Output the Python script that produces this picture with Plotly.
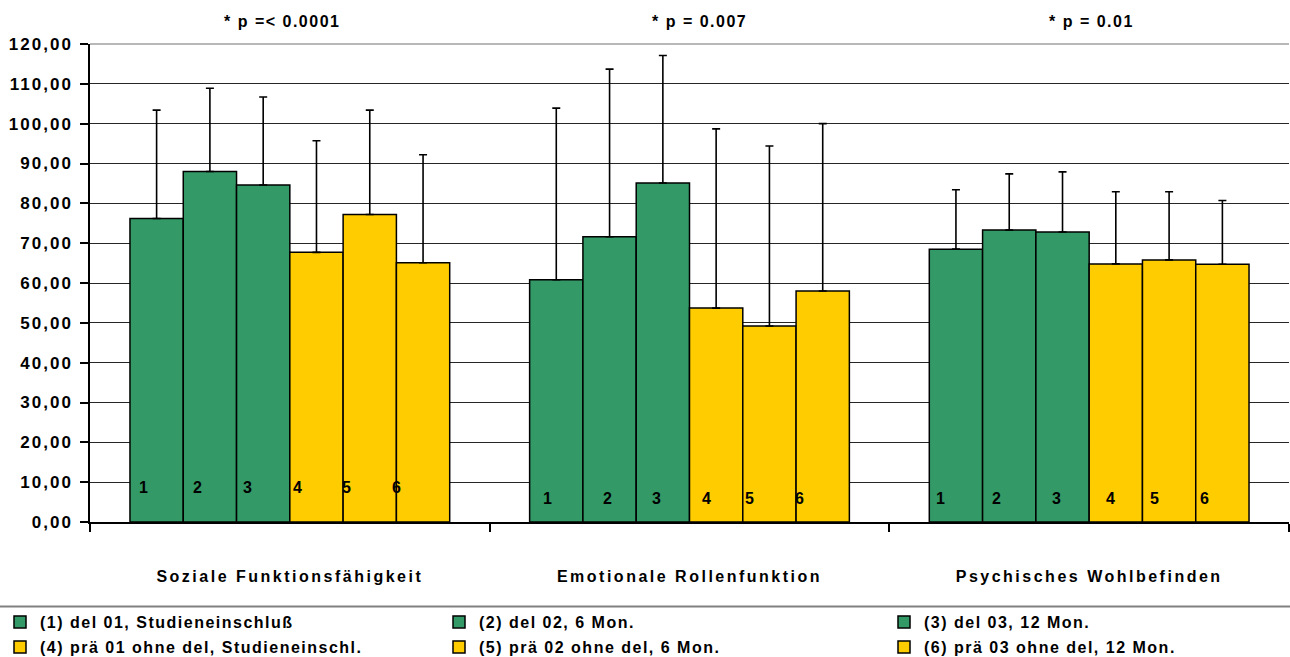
import plotly.graph_objects as go

# ---------------- data ----------------
categories = ["Soziale Funktionsfähigkeit", "Emotionale Rollenfunktion", "Psychisches Wohlbefinden"]
p_labels = ["* p =< 0.0001", "* p = 0.007", "* p = 0.01"]

series_names = [
    "(1) del 01, Studieneinschluß",
    "(2) del 02, 6 Mon.",
    "(3) del 03, 12 Mon.",
    "(4) prä 01 ohne del, Studieneinschl.",
    "(5) prä 02 ohne del, 6 Mon.",
    "(6) prä 03 ohne del, 12 Mon.",
]
bar_numbers = ["1", "2", "3", "4", "5", "6"]

mean_1 = [76.2, 60.8, 68.5]
mean_2 = [88.0, 71.6, 73.3]
mean_3 = [84.6, 85.1, 72.8]
mean_4 = [67.7, 53.7, 64.8]
mean_5 = [77.2, 49.2, 65.8]
mean_6 = [65.1, 58.0, 64.7]

sd_1 = [27.2, 43.1, 14.9]
sd_2 = [20.9, 42.1, 14.1]
sd_3 = [22.1, 32.0, 15.1]
sd_4 = [28.0, 45.0, 18.1]
sd_5 = [26.2, 45.2, 17.1]
sd_6 = [27.1, 42.0, 16.0]

y_ticks = [0, 10, 20, 30, 40, 50, 60, 70, 80, 90, 100, 110, 120]

means = [mean_1, mean_2, mean_3, mean_4, mean_5, mean_6]
sds = [sd_1, sd_2, sd_3, sd_4, sd_5, sd_6]

# ---------------- style ----------------
GREEN = "#339966"
YELLOW = "#FFCC00"
colors = [GREEN, GREEN, GREEN, YELLOW, YELLOW, YELLOW]
FONT = "Liberation Sans, Arial, sans-serif"
W, H = 1290, 657
ML, MR, MT, MB = 90, 1, 44, 135
PLOT_W = W - ML - MR
PLOT_H = H - MT - MB


def spaced(text, px):
    return f"<span style='letter-spacing:{px}px'>{text}</span>"


BARGAP = 0.2
# small pixel shifts of the in-bar number labels (per group, per bar)
label_shift = [
    [-13, -12, -16, -19, -23, -27],
    [-9, -2, -6, -10, -20, -23],
    [-15, -13, -6, -5, -15, -18],
]
label_level = [8.6, 5.95, 5.95]

legend_keys = ["legend", "legend2", "legend3", "legend4", "legend5", "legend6"]

fig = go.Figure()
for k in range(6):
    fig.add_trace(go.Bar(
        name=spaced(series_names[k], 1.5),
        x=categories,
        y=means[k],
        marker=dict(color=colors[k], line=dict(color="black", width=1.5)),
        error_y=dict(type="data", array=sds[k], symmetric=False,
                     arrayminus=[0, 0, 0], color="black", thickness=1.6, width=4),
        legend=legend_keys[k],
        hoverinfo="skip",
    ))

annotations = []
n = len(series_names)
slot = (1 - BARGAP) / n
for g in range(len(categories)):
    for k in range(n):
        annotations.append(dict(
            x=g + (k - (n - 1) / 2) * slot, y=label_level[g], xref="x", yref="y",
            text=bar_numbers[k], showarrow=False, xshift=label_shift[g][k],
            font=dict(family=FONT, size=16, color="black", weight="bold"),
        ))
# p-value titles above the groups
p_shift = [-8, 10, 2]
for g in range(len(categories)):
    annotations.append(dict(
        x=g, y=1, xref="x", yref="paper", yanchor="middle", yshift=23,
        xshift=p_shift[g], text=spaced(p_labels[g], 1.5), showarrow=False,
        font=dict(family=FONT, size=16, color="black", weight="bold"),
    ))

shapes = [
    # top border of plot area (gray)
    dict(type="line", xref="paper", yref="paper", x0=0, x1=1, y0=1, y1=1,
         line=dict(color="#a0a0a0", width=1.5), layer="above"),
    # separator above legend
    dict(type="line", xref="paper", yref="paper", x0=-ML / PLOT_W, x1=1 + MR / PLOT_W,
         y0=-(606.5 - 522) / PLOT_H, y1=-(606.5 - 522) / PLOT_H,
         line=dict(color="#808080", width=2)),
]

legend_common = dict(
    orientation="h", xref="container", yref="container", xanchor="left", yanchor="middle",
    font=dict(family=FONT, size=16, color="black", weight="bold"),
    bgcolor="rgba(0,0,0,0)", itemclick=False, itemdoubleclick=False,
    borderwidth=0,
)
col_px = [-6, 439, 884]
row_px = [622, 647]
legends = {}
for k in range(6):
    legends[legend_keys[k]] = dict(
        legend_common,
        x=col_px[k % 3] / W,
        y=1 - row_px[k // 3] / H,
    )

fig.update_layout(
    width=W, height=H, autosize=False,
    margin=dict(l=ML, r=MR, t=MT, b=MB, autoexpand=False),
    paper_bgcolor="white", plot_bgcolor="white",
    barmode="group", bargap=BARGAP, bargroupgap=0,
    showlegend=True,
    annotations=annotations,
    shapes=shapes,
    font=dict(family=FONT, color="black"),
    **legends,
)

fig.update_yaxes(
    range=[0, 120], tickvals=y_ticks,
    ticktext=[spaced(f"{v:.2f}".replace(".", ","), 2.0) for v in y_ticks],
    showgrid=True, gridcolor="#262626", gridwidth=1,
    showline=True, linecolor="black", linewidth=1.5,
    ticks="outside", ticklen=8, tickcolor="black", tickwidth=1.5,
    tickfont=dict(family=FONT, size=17, color="black", weight="bold"),
    ticklabelstandoff=4, zeroline=False, fixedrange=True, automargin=False,
)
fig.update_xaxes(
    type="category", tickson="boundaries",
    tickvals=categories, ticktext=[spaced(c, 2.5) for c in categories],
    showline=True, linecolor="black", linewidth=1.5,
    ticks="outside", ticklen=8, tickcolor="black", tickwidth=1.5,
    showgrid=False,
    tickfont=dict(family=FONT, size=16, color="black", weight="bold"),
    ticklabelstandoff=39, fixedrange=True, automargin=False,
)

fig.write_html(
    "out.html",
    config={"responsive": False, "displayModeBar": False},
    post_script="document.body.style.margin='0';document.body.style.overflow='hidden';",
)
